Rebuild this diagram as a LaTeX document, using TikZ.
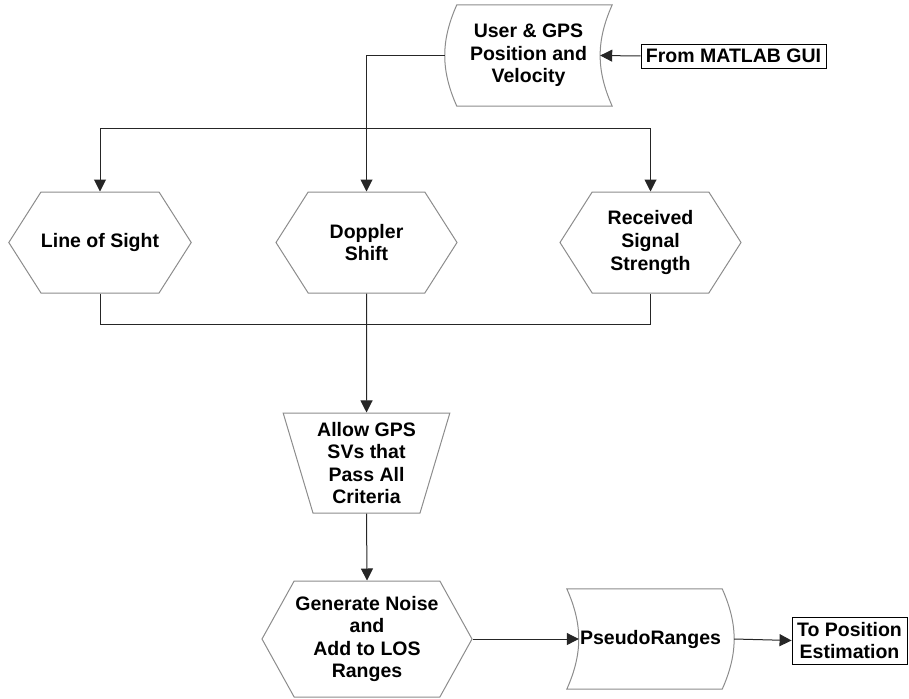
\documentclass[tikz,border=0pt]{standalone}
\usepackage{fontspec}
\setmainfont{Liberation Sans}
\usetikzlibrary{shapes.geometric,shapes.symbols,arrows.meta}
\definecolor{edgegray}{RGB}{140,140,140}
\tikzset{
  lbl/.style={font=\fontsize{19.5}{22.6}\selectfont\bfseries, align=center, inner sep=0pt},
  hexbox/.style={lbl, shape=signal, signal to=west and east, draw=edgegray, line width=1pt},
  databox/.style={lbl, rectangle, minimum width=167pt, minimum height=101pt},
  termbox/.style={lbl, rectangle, draw=black, line width=0.9pt},
  outline/.style={draw=edgegray, line width=1pt},
  link/.style={line width=1pt, draw=black!85},
  arrow/.style={link, -{Triangle[width=12pt,length=12pt]}},
  twoarrow/.style={link, {Triangle[width=12pt,length=12pt]}-{Triangle[width=12pt,length=12pt]}}
}

\begin{document}
\begin{tikzpicture}[x=1pt,y=-1pt]
  \useasboundingbox (0,0) rectangle (909,698);
  \node[databox] (user) at (528.5,55.5) {User \& GPS\\Position and\\Velocity};
  \draw[outline] ([xshift=12pt]user.north west) to[bend right=24] ([xshift=12pt]user.south west)
    -- (user.south east) to[bend left=24] (user.north east) -- cycle;
  \node[termbox, minimum width=185pt, minimum height=24pt] (matlab) at (733.5,56) {From MATLAB GUI};

  \node[hexbox, minimum width=180pt, minimum height=101pt, signal pointer angle=115] (los) at (100,242.5) {Line of Sight};
  \node[hexbox, minimum width=181pt, minimum height=101pt, signal pointer angle=115] (dop) at (366.5,242.5) {Doppler\\Shift};
  \node[hexbox, minimum width=181pt, minimum height=101pt, signal pointer angle=115] (rss) at (650.5,242.5) {Received\\Signal\\Strength};

  \node[lbl, trapezium, shape border rotate=180, trapezium stretches=true,
    trapezium left angle=71.5, trapezium right angle=71.5,
    minimum width=167pt, minimum height=100pt, draw=edgegray, line width=1pt] (filt) at (366.5,463)
    {Allow GPS\\SVs that\\Pass All\\Criteria};

  \node[hexbox, minimum width=210pt, minimum height=116pt, signal pointer angle=122] (gen) at (367,639)
    {Generate Noise\\and\\Add to LOS\\Ranges};
  \node[databox, minimum height=100pt] (pseudo) at (650.5,639) {PseudoRanges};
  \draw[outline] (pseudo.north west) to[bend left=24] (pseudo.south west)
    -- ([xshift=-12pt]pseudo.south east) to[bend right=24] ([xshift=-12pt]pseudo.north east) -- cycle;
  \node[termbox, minimum width=115pt, minimum height=47pt] (topos) at (849.5,640.5) {To Position\\Estimation};

  \coordinate (fanY) at (0,128);
  \coordinate (joinY) at (0,324);
  \coordinate (fanL) at (los.north |- fanY);
  \coordinate (fanR) at (rss.north |- fanY);
  \coordinate (joinL) at (los.south |- joinY);
  \coordinate (joinR) at (rss.south |- joinY);

  \draw[arrow] (matlab.west) -- ([xshift=-12pt]user.east);
  \draw[arrow] (user.west) -| (dop.north);
  \draw[twoarrow] (los.north) -- (fanL) -- (fanR) -- (rss.north);
  \draw[link] (los.south) -- (joinL) -- (joinR) -- (rss.south);
  \draw[arrow] (dop.south) -- (filt.north);
  \draw[arrow] (filt.south) -- (gen.north);
  \draw[arrow] (gen.east) -- ([xshift=12pt]pseudo.west);
  \draw[arrow] (pseudo.east) -- (topos.west);
\end{tikzpicture}
\end{document}
